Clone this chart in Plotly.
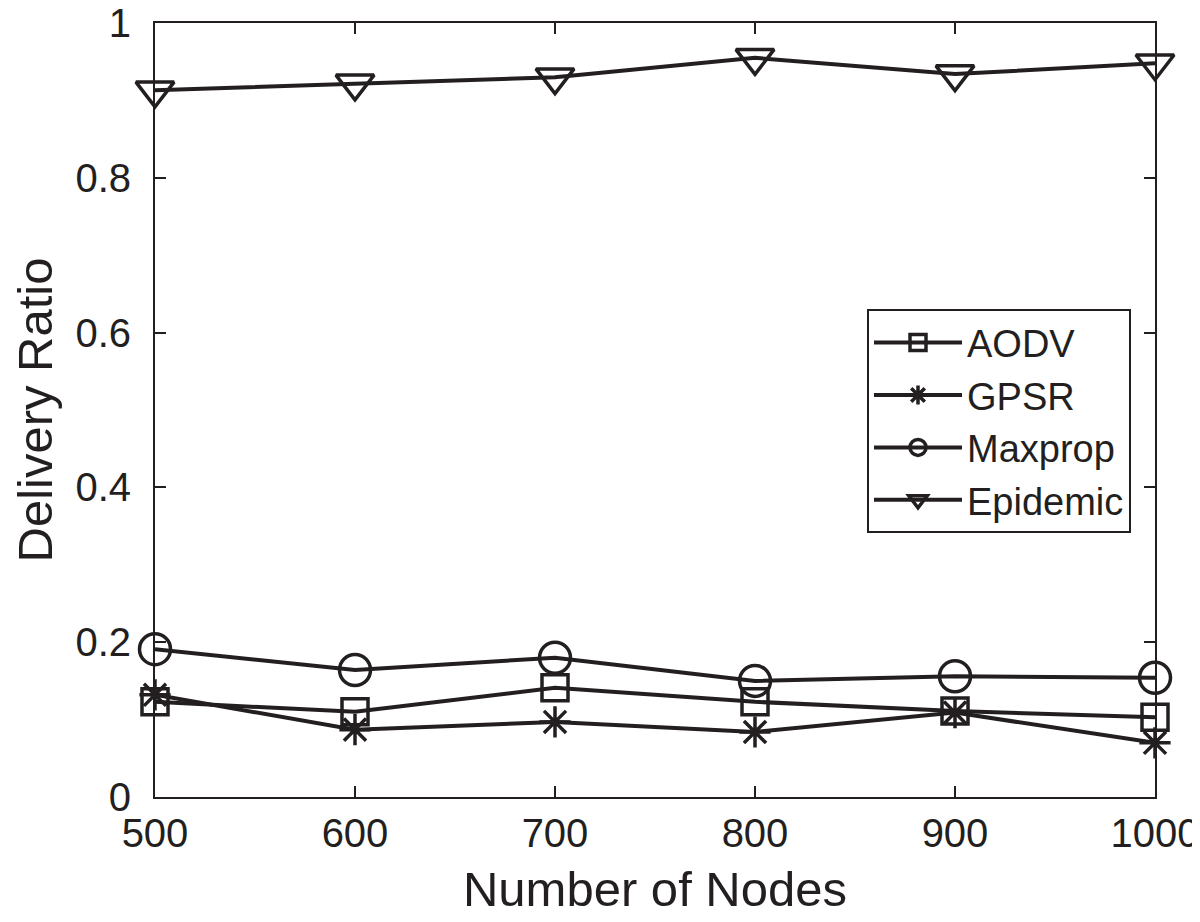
import plotly.graph_objects as go

nodes = [500, 600, 700, 800, 900, 1000]
aodv = [0.123, 0.110, 0.141, 0.123, 0.111, 0.103]
gpsr = [0.132, 0.087, 0.097, 0.084, 0.109, 0.070]
maxprop = [0.191, 0.164, 0.180, 0.150, 0.156, 0.154]
epidemic = [0.913, 0.922, 0.930, 0.955, 0.934, 0.948]

y_ticks = [0, 0.2, 0.4, 0.6, 0.8, 1]
y_labels = ["0", "0.2", "0.4", "0.6", "0.8", "1"]

ink = "#231f20"

series = [
    ("AODV", aodv, "square-open", 26),
    ("GPSR", gpsr, "asterisk-open", 26),
    ("Maxprop", maxprop, "circle-open", 31),
    ("Epidemic", epidemic, "triangle-down-open", 33),
]

fig = go.Figure()
for name, vals, sym, sz in series:
    fig.add_trace(go.Scatter(
        x=nodes, y=vals, name=name, mode="lines+markers",
        line=dict(color=ink, width=4),
        marker=dict(symbol=sym, size=sz, color=ink,
                    line=dict(color=ink, width=3.5)),
        cliponaxis=False,
    ))

# page body has an 8px margin, so the figure is a bit smaller than the window
font_name = "Liberation Sans, Arial, sans-serif"
fig.update_layout(
    width=1192, height=914,
    margin=dict(l=147, r=45, t=15, b=125),
    paper_bgcolor="white", plot_bgcolor="white",
    font=dict(family=font_name, size=40, color=ink),
    showlegend=True,
    legend=dict(x=0.712, y=0.63, xanchor="left", yanchor="top",
                bordercolor=ink, borderwidth=2, bgcolor="white",
                font=dict(family=font_name, size=38, color=ink),
                itemwidth=88, tracegroupgap=0),
)
fig.update_xaxes(
    range=[500, 1000], tickvals=nodes, ticks="inside", ticklen=11,
    tickwidth=2, tickcolor=ink, automargin=False,
    ticklabeloverflow="allow",
    showline=True, linecolor=ink, linewidth=2, mirror="ticks",
    showgrid=False, zeroline=False,
    title=dict(text="Number of Nodes", font=dict(size=49), standoff=18),
)
fig.update_yaxes(
    range=[0, 1], tickvals=y_ticks, ticktext=y_labels, ticks="inside",
    ticklen=11, tickwidth=2, tickcolor=ink, automargin=False,
    ticklabelstandoff=14, ticklabeloverflow="allow",
    showline=True, linecolor=ink, linewidth=2, mirror="ticks",
    showgrid=False, zeroline=False,
    title=dict(text="Delivery Ratio", font=dict(size=49), standoff=18),
)

fig.write_html("out.html")
